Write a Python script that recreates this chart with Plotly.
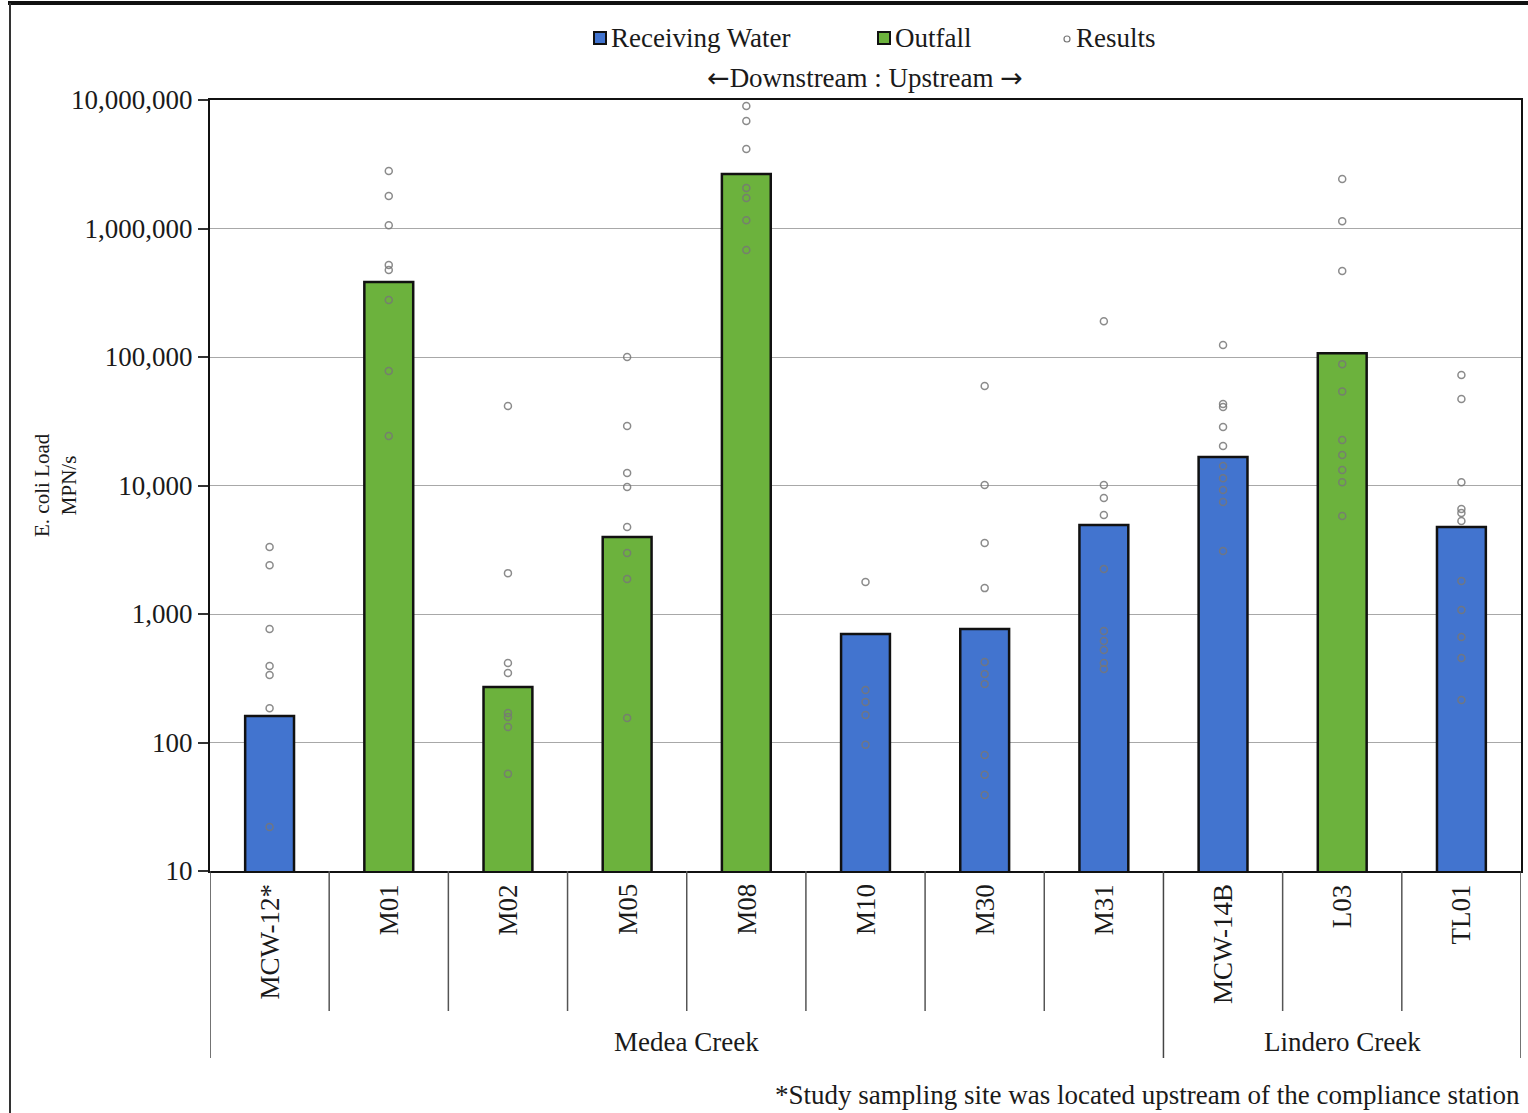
import plotly.graph_objects as go

# Sampling sites, downstream to upstream
sites = ["MCW-12*", "M01", "M02", "M05", "M08", "M10", "M30", "M31", "MCW-14B", "L03", "TL01"]
site_type = ["Receiving Water", "Outfall", "Outfall", "Outfall", "Outfall",
             "Receiving Water", "Receiving Water", "Receiving Water",
             "Receiving Water", "Outfall", "Receiving Water"]
creeks = ["Medea Creek", "Lindero Creek"]
creek_sites = [8, 3]  # number of sites in each creek group

# Summary E. coli load per site (MPN/s)
site_load = [161, 384000, 270, 3970, 2656000, 699, 764, 4930, 16670, 107000, 4750]

# Individual sample results per site (MPN/s)
res_mcw12 = [3320, 2400, 764, 394, 335, 185, 22]
res_m01 = [2800000, 1790000, 1060000, 520000, 475000, 278000, 77800, 24300]
res_m02 = [41600, 2080, 416, 348, 170, 158, 132, 57]
res_m05 = [100000, 29000, 12500, 9730, 4750, 2985, 1870, 155]
res_m08 = [8980000, 6870000, 4160000, 2070000, 1730000, 1160000, 680000]
res_m10 = [1775, 256, 207, 164, 96]
res_m30 = [59500, 10100, 3570, 1590, 423, 341, 285, 80, 56, 39]
res_m31 = [190000, 10100, 8000, 5890, 2240, 738, 617, 525, 416, 374]
res_mcw14b = [124000, 43000, 40800, 28500, 20300, 14200, 11400, 9220, 7440, 3090]
res_l03 = [2430000, 1140000, 467000, 88000, 54000, 22600, 17300, 13200, 10600, 5790]
res_tl01 = [72400, 47100, 10600, 6560, 6110, 5290, 1806, 1075, 662, 455, 214]

results = [res_mcw12, res_m01, res_m02, res_m05, res_m08, res_m10,
           res_m30, res_m31, res_mcw14b, res_l03, res_tl01]

y_tickvals = [10, 100, 1000, 10000, 100000, 1000000, 10000000]
y_ticktext = ["10", "100", "1,000", "10,000", "100,000", "1,000,000", "10,000,000"]

BLUE = "#4274CF"
GREEN = "#6CB23D"
FONT = "Liberation Serif"
TXT = "#1a1a1a"
FS = 27

W, H = 1528, 1113
L, R, T, B = 210, 7, 100, 242
PW, PH = W - L - R, H - T - B


def px(xp):
    return (xp - L) / PW


def py(yp):
    return (H - B - yp) / PH


fig = go.Figure()

for kind, color in [("Receiving Water", BLUE), ("Outfall", GREEN)]:
    xs = [s for s, t in zip(sites, site_type) if t == kind]
    ys = [v for v, t in zip(site_load, site_type) if t == kind]
    fig.add_trace(go.Bar(
        x=xs, y=ys, name=kind, width=0.41,
        marker=dict(color=color, line=dict(color="#111111", width=2.5)),
        showlegend=False,
    ))

pt_x, pt_y = [], []
for s, vals in zip(sites, results):
    pt_x += [s] * len(vals)
    pt_y += vals
fig.add_trace(go.Scatter(
    x=pt_x, y=pt_y, mode="markers", name="Results",
    marker=dict(symbol="circle-open", size=7, color="#777777",
                line=dict(width=1.5), opacity=0.85),
    showlegend=False,
))

shapes = []
# separators between site labels below the axis
group_edges = [-0.5]
acc = -0.5
for n in creek_sites:
    acc += n
    group_edges.append(acc)
for i in range(len(sites) - 1):
    xe = i + 0.5
    if xe in group_edges:
        continue
    shapes.append(dict(type="line", xref="x", yref="paper", x0=xe, x1=xe,
                       y0=0, y1=py(1011), line=dict(color="#555555", width=1.5)))
for xe in group_edges:
    shapes.append(dict(type="line", xref="x", yref="paper", x0=xe, x1=xe,
                       y0=py(871), y1=py(1058), line=dict(color="#444444", width=1.5)))

# outer frame (top and left)
shapes.append(dict(type="line", xref="paper", yref="paper", x0=px(8), x1=px(1528),
                   y0=py(3), y1=py(3), line=dict(color="#111111", width=4)))
shapes.append(dict(type="line", xref="paper", yref="paper", x0=px(10), x1=px(10),
                   y0=py(3), y1=py(1113), line=dict(color="#333333", width=2)))

# legend keys
shapes.append(dict(type="rect", xref="paper", yref="paper", x0=px(594), x1=px(606),
                   y0=py(44), y1=py(32), fillcolor=BLUE, line=dict(color="#111111", width=2)))
shapes.append(dict(type="rect", xref="paper", yref="paper", x0=px(878), x1=px(890),
                   y0=py(44), y1=py(32), fillcolor=GREEN, line=dict(color="#111111", width=2)))
shapes.append(dict(type="circle", xref="paper", yref="paper", x0=px(1064), x1=px(1070),
                   y0=py(42), y1=py(36), line=dict(color="#777777", width=1.2)))

annotations = []
for s in sites:
    annotations.append(dict(x=s, xref="x", y=py(882), yref="paper", text=s,
                            textangle=-90, xanchor="center", yanchor="top",
                            showarrow=False, font=dict(family=FONT, size=FS, color=TXT)))
start = 0
for name, n in zip(creeks, creek_sites):
    mid = start + (n - 1) / 2
    annotations.append(dict(x=mid, xref="x", y=py(1042), yref="paper", text=name,
                            xanchor="center", yanchor="middle", showarrow=False,
                            font=dict(family=FONT, size=FS, color=TXT)))
    start += n

annotations.append(dict(x=px(1522), xref="paper", y=py(1095), yref="paper",
                        text="*Study sampling site was located upstream of the compliance station",
                        xanchor="right", yanchor="middle", showarrow=False,
                        font=dict(family=FONT, size=FS, color=TXT)))
annotations.append(dict(x=px(55), xref="paper", y=py(485), yref="paper",
                        text="E. coli Load<br>MPN/s", textangle=-90,
                        xanchor="center", yanchor="middle", showarrow=False,
                        font=dict(family=FONT, size=21, color=TXT)))
# legend text
annotations.append(dict(x=px(609), xref="paper", y=py(38), yref="paper", text="Receiving Water",
                        xanchor="left", yanchor="middle", showarrow=False,
                        font=dict(family=FONT, size=FS, color=TXT)))
annotations.append(dict(x=px(893), xref="paper", y=py(38), yref="paper", text="Outfall",
                        xanchor="left", yanchor="middle", showarrow=False,
                        font=dict(family=FONT, size=FS, color=TXT)))
annotations.append(dict(x=px(1074), xref="paper", y=py(38), yref="paper", text="Results",
                        xanchor="left", yanchor="middle", showarrow=False,
                        font=dict(family=FONT, size=FS, color=TXT)))
arrow_l = "<span style='font-family:DejaVu Sans'>\u2190</span>"
arrow_r = "<span style='font-family:DejaVu Sans'>\u2192</span>"
annotations.append(dict(x=px(865), xref="paper", y=py(77), yref="paper",
                        text=arrow_l + "Downstream : Upstream " + arrow_r,
                        xanchor="center", yanchor="middle", showarrow=False,
                        font=dict(family=FONT, size=FS, color=TXT)))

fig.update_layout(
    width=W, height=H,
    margin=dict(l=L, r=R, t=T, b=B, autoexpand=False),
    paper_bgcolor="white", plot_bgcolor="white",
    barmode="overlay",
    shapes=shapes, annotations=annotations,
    font=dict(family=FONT, size=FS, color=TXT),
    xaxis=dict(type="category", categoryorder="array", categoryarray=sites,
               range=[-0.5, len(sites) - 0.5], showticklabels=False, ticks="",
               showgrid=False, showline=True, linecolor="#111111", linewidth=2,
               mirror=True, zeroline=False),
    yaxis=dict(type="log", range=[1, 7], tickvals=y_tickvals, ticktext=y_ticktext,
               ticks="outside", ticklen=10, tickwidth=1.5, tickcolor="#333333",
               showline=True, linecolor="#111111", linewidth=2, mirror=True,
               showgrid=True, gridcolor="#a8a8a8", gridwidth=1.2,
               tickfont=dict(family=FONT, size=FS, color=TXT), zeroline=False),
)

fig.write_html("out.html")
